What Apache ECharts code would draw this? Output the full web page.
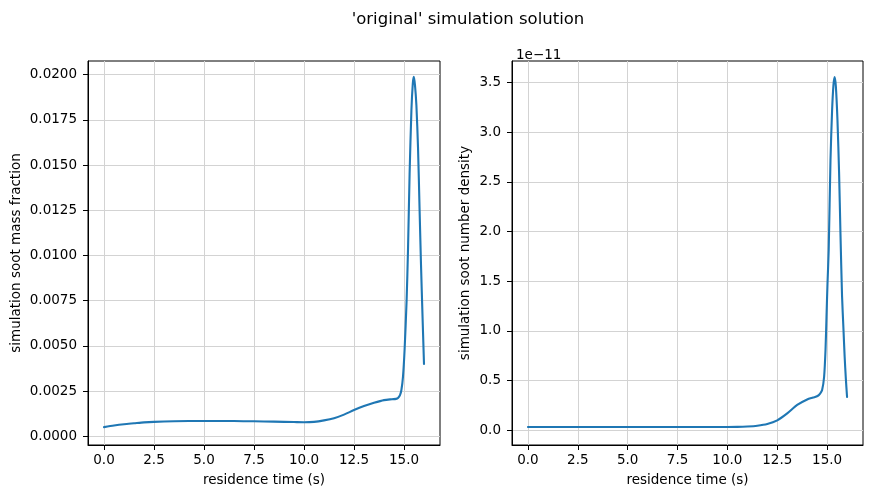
<!DOCTYPE html>
<html>
<head>
<meta charset="utf-8">
<script src="https://cdn.jsdelivr.net/npm/echarts@6/dist/echarts.min.js"></script>
<style>
  html, body { margin: 0; padding: 0; background: #fff; }
  #chart { width: 873px; height: 498px; }
</style>
</head>
<body>
<div id="chart"></div>
<script>
// residence time (s) and soot mass fraction, left panel
const massTime = [0, 0.5, 1, 1.5, 2, 2.5, 3.5, 5, 6.5, 7.5, 8.5, 9.5, 10, 10.5, 11, 11.5, 12, 12.5, 13, 13.5, 14, 14.4, 14.6, 14.7, 14.8, 14.87, 14.95, 15.03, 15.13, 15.2, 15.28, 15.37, 15.44, 15.49, 15.55, 15.62, 15.7, 15.78, 15.85, 15.93, 16]
const massFrac = [0.00051, 0.0006, 0.00067, 0.00072, 0.00077, 0.0008, 0.00083, 0.00085, 0.00085, 0.00083, 0.00081, 0.00079, 0.00078, 0.0008, 0.00088, 0.001, 0.0012, 0.00145, 0.00167, 0.00185, 0.002, 0.00205, 0.00207, 0.00212, 0.00228, 0.00256, 0.0033, 0.0048, 0.0075, 0.0103, 0.0145, 0.018, 0.0195, 0.01987, 0.0194, 0.0183, 0.016, 0.0125, 0.0095, 0.0065, 0.004]

// residence time (s) and soot number density (x 1e-11), right panel
const numTime = [0, 2.5, 5, 7.5, 10, 10.5, 11, 11.5, 12, 12.5, 13, 13.5, 14, 14.3, 14.52, 14.65, 14.75, 14.85, 14.92, 14.97, 15.02, 15.08, 15.17, 15.25, 15.32, 15.38, 15.44, 15.52, 15.6, 15.67, 15.75, 15.82, 15.88, 15.94, 16]
const numDens = [0.033, 0.033, 0.033, 0.033, 0.033, 0.034, 0.038, 0.046, 0.063, 0.1, 0.17, 0.255, 0.31, 0.33, 0.345, 0.37, 0.405, 0.539, 0.808, 1.143, 1.479, 1.815, 2.72, 3.22, 3.48, 3.557, 3.46, 3.12, 2.6, 1.98, 1.35, 1.02, 0.74, 0.52, 0.335]

// tick labels
const timeTicks = [0, 2.5, 5, 7.5, 10, 12.5, 15]
const massTicks = [0, 0.0025, 0.005, 0.0075, 0.01, 0.0125, 0.015, 0.0175, 0.02]
const numTicks = [0, 0.5, 1, 1.5, 2, 2.5, 3, 3.5]

const FONT = 'DejaVu Sans'
const BLUE = '#1f77b4'

function pairs (xs, ys) {
  return xs.map((x, i) => [x, ys[i]])
}

function timeAxis (gridIndex) {
  return {
    type: 'value',
    gridIndex,
    min: -0.8,
    max: 16.8,
    name: 'residence time (s)',
    nameLocation: 'middle',
    nameGap: 28,
    nameTextStyle: { fontFamily: FONT, fontSize: 13.5, color: '#000' },
    axisLine: { show: true, onZero: false, lineStyle: { color: '#000', width: 1 } },
    axisTick: { show: true, length: 5, customValues: timeTicks, lineStyle: { color: '#000', width: 1 } },
    axisLabel: { customValues: timeTicks, margin: 8, fontFamily: FONT, fontSize: 13.5, color: '#000',
      formatter: v => v.toFixed(1) },
    splitLine: { show: true, lineStyle: { color: '#d3d3d3', width: 1 } }
  }
}

function valueAxis (gridIndex, name, min, max, ticks, digits, gap) {
  return {
    type: 'value',
    gridIndex,
    min,
    max,
    name,
    nameLocation: 'middle',
    nameGap: gap,
    nameRotate: 90,
    nameTextStyle: { fontFamily: FONT, fontSize: 13.5, color: '#000' },
    axisLine: { show: true, onZero: false, lineStyle: { color: '#000', width: 1 } },
    axisTick: { show: true, length: 5, customValues: ticks, lineStyle: { color: '#000', width: 1 } },
    axisLabel: { customValues: ticks, margin: 11, fontFamily: FONT, fontSize: 13.5, color: '#000',
      formatter: v => v.toFixed(digits) },
    splitLine: { show: true, lineStyle: { color: '#d3d3d3', width: 1 } }
  }
}

function lineSeries (idx, data) {
  return {
    type: 'line',
    xAxisIndex: idx,
    yAxisIndex: idx,
    data,
    showSymbol: false,
    smooth: 0.25,
    lineStyle: { color: BLUE, width: 2.1, cap: 'round', join: 'round' },
    itemStyle: { color: BLUE }
  }
}

const chart = echarts.init(document.getElementById('chart'))
chart.setOption({
  animation: false,
  backgroundColor: '#fff',
  title: [
    { text: "'original' simulation solution", left: 463, top: 6, textAlign: 'center',
      textStyle: { fontFamily: FONT, fontSize: 16.5, fontWeight: 'normal', color: '#000' } },
    { text: '1e\u221211', left: 511, top: 43,
      textStyle: { fontFamily: FONT, fontSize: 13.5, fontWeight: 'normal', color: '#000' } }
  ],
  grid: [
    { left: 88, right: 433, top: 61, bottom: 53, show: true, borderColor: '#000', borderWidth: 1 },
    { left: 512, right: 10, top: 61, bottom: 53, show: true, borderColor: '#000', borderWidth: 1 }
  ],
  xAxis: [timeAxis(0), timeAxis(1)],
  yAxis: [
    valueAxis(0, 'simulation soot mass fraction', -0.00048, 0.02075, massTicks, 4, 65),
    valueAxis(1, 'simulation soot number density', -0.148, 3.718, numTicks, 1, 40)
  ],
  series: [
    lineSeries(0, pairs(massTime, massFrac)),
    lineSeries(1, pairs(numTime, numDens))
  ]
})
</script>
</body>
</html>
